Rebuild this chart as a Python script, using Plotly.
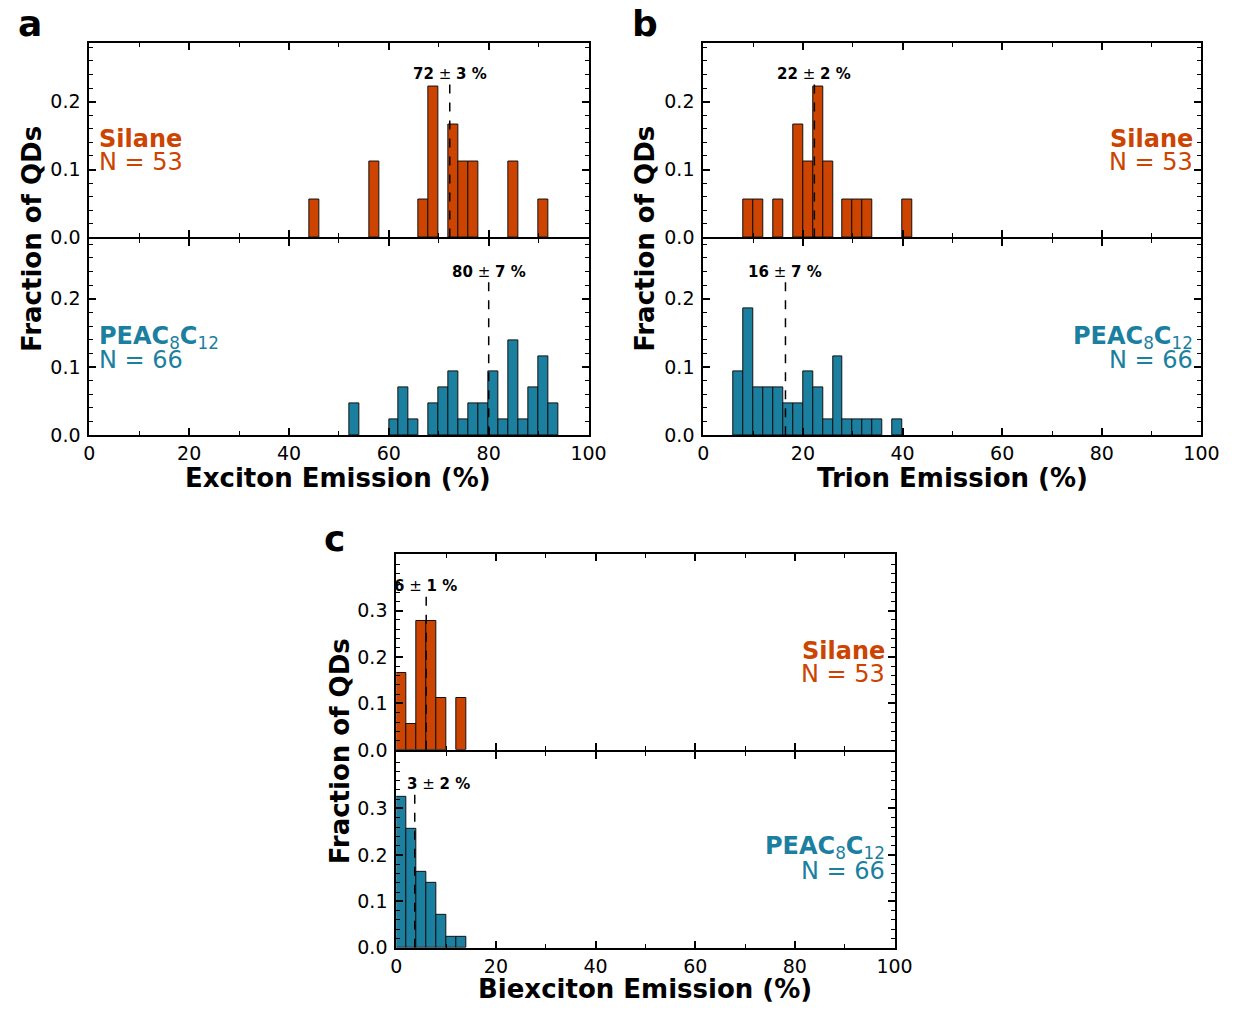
import plotly.graph_objects as go

# ---------------- data ----------------
# histogram bins: left edges (%), bin width 2 %
exc_sil_edges = [44, 56, 66, 68, 72, 74, 76, 84, 90]
exc_sil_frac = [0.0556, 0.1111, 0.0556, 0.2222, 0.1667, 0.1111, 0.1111, 0.1111, 0.0556]
exc_peac_edges = [52, 60, 62, 64, 68, 70, 72, 74, 76, 78, 80, 82, 84, 86, 88, 90, 92]
exc_peac_frac = [0.0465, 0.0233, 0.0698, 0.0233, 0.0465, 0.0698, 0.0930, 0.0233, 0.0465,
                 0.0465, 0.0930, 0.0233, 0.1395, 0.0233, 0.0698, 0.1163, 0.0465]

tri_sil_edges = [8, 10, 14, 18, 20, 22, 24, 28, 30, 32, 40]
tri_sil_frac = [0.0556, 0.0556, 0.0556, 0.1667, 0.1111, 0.2222, 0.1111, 0.0556, 0.0556, 0.0556, 0.0556]
tri_peac_edges = [6, 8, 10, 12, 14, 16, 18, 20, 22, 24, 26, 28, 30, 32, 34, 38]
tri_peac_frac = [0.0930, 0.1860, 0.0698, 0.0698, 0.0698, 0.0465, 0.0465, 0.0930, 0.0698, 0.0233,
                 0.1163, 0.0233, 0.0233, 0.0233, 0.0233, 0.0233]

bix_sil_edges = [0, 2, 4, 6, 8, 12]
bix_sil_frac = [0.1667, 0.0556, 0.2778, 0.2778, 0.1111, 0.1111]
bix_peac_edges = [0, 2, 4, 6, 8, 10, 12]
bix_peac_frac = [0.3256, 0.2558, 0.1628, 0.1395, 0.0698, 0.0233, 0.0233]

bin_width = 2

means = [72.2, 80.0, 22.3, 16.5, 6.0, 3.7]
mean_label_x = [72.3, 80.0, 22.2, 16.5, 5.9, 8.5]
mean_labels = ["<b>72</b> ± <b>3 %</b>", "<b>80</b> ± <b>7 %</b>",
               "<b>22</b> ± <b>2 %</b>", "<b>16</b> ± <b>7 %</b>",
               "<b>6</b> ± <b>1 %</b>", "<b>3</b> ± <b>2 %</b>"]

x_titles = ["Exciton Emission (%)", "Trion Emission (%)", "Biexciton Emission (%)"]
y_title = "Fraction of QDs"
panel_letters = ["a", "b", "c"]
sil_label = ["<b>Silane</b>", "N = 53"]
peac_label = ["<b>PEAC</b><sub>8</sub><b>C</b><sub>12</sub>", "N = 66"]

ORANGE = "#CC4400"
BLUE = "#1B7FA0"
FONT = "DejaVu Sans"

W, H = 1243, 1024


def px(x):
    return x / W


def py(y):
    return 1 - y / H


fig = go.Figure()

series = [
    (exc_sil_edges, exc_sil_frac, ORANGE),
    (exc_peac_edges, exc_peac_frac, BLUE),
    (tri_sil_edges, tri_sil_frac, ORANGE),
    (tri_peac_edges, tri_peac_frac, BLUE),
    (bix_sil_edges, bix_sil_frac, ORANGE),
    (bix_peac_edges, bix_peac_frac, BLUE),
]

for i, (edges, frac, col) in enumerate(series):
    n = "" if i == 0 else str(i + 1)
    fig.add_trace(go.Bar(
        x=edges, y=frac, width=bin_width, offset=0,
        marker=dict(color=col, line=dict(color="#111111", width=1)),
        xaxis="x" + n, yaxis="y" + n, showlegend=False,
    ))

# domains in pixels (upper/lower panels share one spine around the join)
xdom = [(85, 594), (85, 594), (711, 1219), (711, 1219), (398, 906), (398, 906)]
ydom = [(43, 240), (242, 440), (43, 240), (242, 440), (560, 758), (760, 958)]
ymax = [0.287, 0.287, 0.287, 0.287, 0.422, 0.422]
ytv = [[0, 0.1, 0.2]] * 4 + [[0, 0.1, 0.2, 0.3]] * 2

layout = dict(
    width=W, height=H, margin=dict(l=0, r=0, t=0, b=0),
    paper_bgcolor="white", plot_bgcolor="white",
    font=dict(family=FONT, color="black", size=19),
    bargap=0, showlegend=False,
)

for i in range(6):
    n = "" if i == 0 else str(i + 1)
    bottom = (i % 2 == 1)
    layout["xaxis" + n] = dict(
        domain=[px(xdom[i][0]), px(xdom[i][1])],
        anchor="y" + n, range=[0, 100],
        tickvals=[0, 20, 40, 60, 80, 100],
        ticks="inside", ticklen=7, tickwidth=1.5, tickcolor="black",
        minor=dict(tickvals=[10, 30, 50, 70, 90], ticks="inside", ticklen=4, tickwidth=1.2, tickcolor="black"),
        showticklabels=bottom, mirror="ticks",
        showline=True, linewidth=2, linecolor="black",
        showgrid=False, zeroline=False,
        tickfont=dict(size=19, family=FONT, color="black"),
    )
    layout["yaxis" + n] = dict(
        domain=[py(ydom[i][1]), py(ydom[i][0])],
        anchor="x" + n, range=[0, ymax[i]],
        tickvals=ytv[i], ticktext=["%.1f" % v for v in ytv[i]],
        ticks="inside", ticklen=7, tickwidth=1.5, tickcolor="black",
        minor=dict(dtick=0.02, tick0=0, ticks="inside", ticklen=4, tickwidth=1.2, tickcolor="black"),
        mirror="ticks", showline=True, linewidth=2, linecolor="black",
        showgrid=False, zeroline=False, ticklabelstandoff=3,
        tickfont=dict(size=19, family=FONT, color="black"),
    )

fig.update_layout(**layout)

shapes = []
annotations = []
for i in range(6):
    n = "" if i == 0 else str(i + 1)
    ytop = 0.79 * ymax[i]
    shapes.append(dict(type="line", xref="x" + n, yref="y" + n,
                       x0=means[i], x1=means[i], y0=0, y1=ytop,
                       line=dict(color="black", width=1.5, dash="dash")))
    annotations.append(dict(xref="x" + n, yref="y" + n, x=mean_label_x[i], y=ytop,
                            text=mean_labels[i], showarrow=False,
                            xanchor="center", yanchor="bottom", yshift=-2,
                            font=dict(size=15, family=FONT, color="black")))

# panel labels
for (lx, ly), t in zip([(24, 24), (652, 24), (335, 544)], panel_letters):
    annotations.append(dict(xref="paper", yref="paper", x=px(lx), y=py(ly), text="<b>%s</b>" % t,
                            showarrow=False, xanchor="center", yanchor="middle",
                            font=dict(size=36, family=FONT, color="black")))

# axis titles
for (tx, ty), t in zip([(339, 483), (965, 483), (652, 1000)], x_titles):
    annotations.append(dict(xref="paper", yref="paper", x=px(tx), y=py(ty), text="<b>%s</b>" % t,
                            showarrow=False, xanchor="center", yanchor="middle",
                            font=dict(size=26, family=FONT, color="black")))
for (tx, ty) in [(27, 241), (652, 241), (340, 759)]:
    annotations.append(dict(xref="paper", yref="paper", x=px(tx), y=py(ty), text="<b>%s</b>" % y_title,
                            showarrow=False, xanchor="center", yanchor="middle", textangle=-90,
                            font=dict(size=26, family=FONT, color="black")))

# sample labels
def sample_label(x, y1, y2, lab, col, anchor):
    annotations.append(dict(xref="paper", yref="paper", x=px(x), y=py(y1), text=lab[0],
                            showarrow=False, xanchor=anchor, yanchor="middle",
                            font=dict(size=24, family=FONT, color=col)))
    annotations.append(dict(xref="paper", yref="paper", x=px(x), y=py(y2), text=lab[1],
                            showarrow=False, xanchor=anchor, yanchor="middle",
                            font=dict(size=24, family=FONT, color=col)))

sample_label(93, 141, 164, sil_label, ORANGE, "left")
sample_label(93, 341, 364, peac_label, BLUE, "left")
sample_label(1212, 141, 164, sil_label, ORANGE, "right")
sample_label(1212, 341, 364, peac_label, BLUE, "right")
sample_label(898, 658, 681, sil_label, ORANGE, "right")
sample_label(898, 857, 880, peac_label, BLUE, "right")

fig.update_layout(shapes=shapes, annotations=annotations)
fig.write_html("out.html")
